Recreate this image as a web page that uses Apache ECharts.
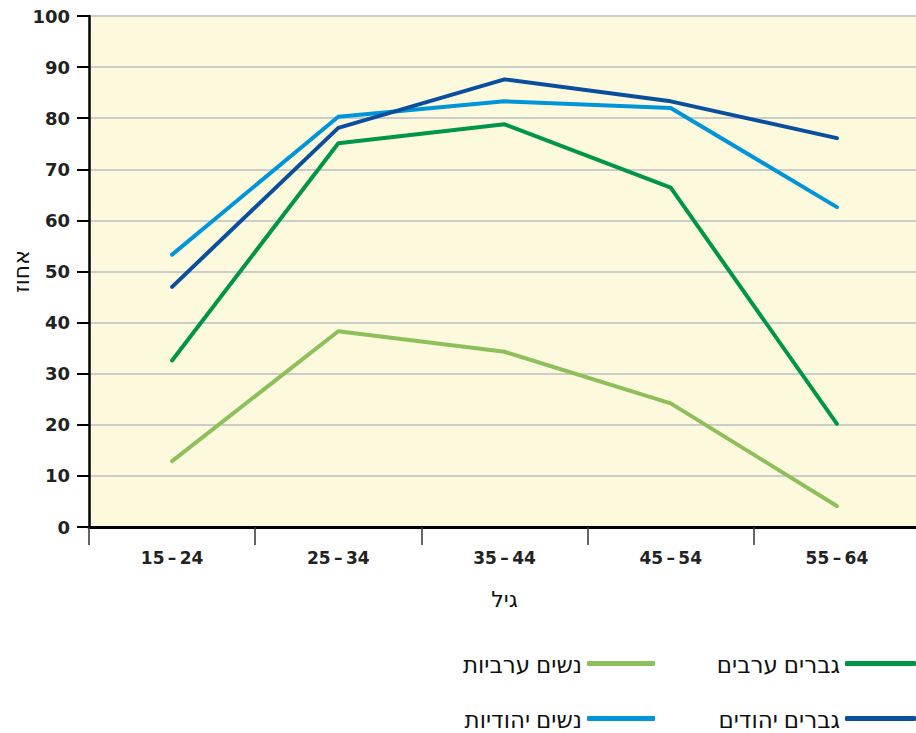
<!DOCTYPE html>
<html>
<head>
<meta charset="utf-8">
<script src="https://cdn.jsdelivr.net/npm/echarts@6/dist/echarts.min.js"></script>
<style>
  html, body { margin: 0; padding: 0; background: #fff; }
  #chart { width: 916px; height: 733px; }
</style>
</head>
<body>
<div id="chart"></div>
<script>
var ageGroups = ['15-24', '25-34', '35-44', '45-54', '55-64'];
var jewishMen = [47.0, 78.1, 87.6, 83.3, 76.1];
var jewishWomen = [53.3, 80.3, 83.3, 82.0, 62.6];
var arabMen = [32.6, 75.1, 78.8, 66.4, 20.2];
var arabWomen = [12.9, 38.3, 34.3, 24.2, 4.1];

// svg renderer keeps the hebrew text in the right order
var chart = echarts.init(document.getElementById('chart'), null, { renderer: 'svg' });
var numFont = "'DejaVu Sans', sans-serif";
var hebFont = "'Noto Sans', 'DejaVu Sans', sans-serif";

function series(name, values, color) {
  return {
    name: name,
    type: 'line',
    data: values,
    symbol: 'none',
    itemStyle: { color: color },
    lineStyle: { color: color, width: 4, cap: 'round', join: 'round' }
  };
}

// one legend per item so the 2x2 right-to-left layout is exact
function legend(name, right, top, width) {
  return {
    data: [name],
    right: right,
    top: top,
    align: 'right',
    icon: 'roundRect',
    itemWidth: width,
    itemHeight: 5,
    padding: 0,
    textStyle: { fontSize: 23, color: '#111', fontFamily: hebFont, lineHeight: 22 }
  };
}

var option = {
  animation: false,
  textStyle: { fontFamily: hebFont },
  grid: {
    left: 89, right: -4, top: 16, bottom: 206,
    outerBoundsMode: 'none',
    containLabel: false,
    show: true, backgroundColor: '#fdf9dd', borderWidth: 0
  },
  legend: [
    legend('גברים ערבים', 0, 652, 71),
    legend('גברים יהודים', 0, 707, 71),
    legend('נשים ערביות', 261, 652, 68),
    legend('נשים יהודיות', 261, 707, 68)
  ],
  xAxis: {
    type: 'category',
    data: ageGroups,
    boundaryGap: true,
    name: 'גיל',
    nameLocation: 'middle',
    nameGap: 60,
    nameTextStyle: { fontSize: 22, color: '#111', fontFamily: hebFont },
    axisLine: { lineStyle: { color: '#000', width: 3 } },
    axisTick: { show: true, length: 18, lineStyle: { color: '#333', width: 1.5 } },
    axisLabel: {
      fontSize: 17, fontWeight: 'bold', color: '#222', margin: 22, fontFamily: numFont,
      formatter: function (v) { return v.replace('-', '\u2009\u2013\u2009'); }
    },
    splitLine: { show: false }
  },
  yAxis: {
    type: 'value',
    min: 0, max: 100, interval: 10,
    name: 'אחוז',
    nameLocation: 'middle',
    nameGap: 58,
    nameMoveOverlap: false,
    nameRotate: 90,
    nameTextStyle: { fontSize: 22, color: '#111', fontFamily: hebFont },
    axisLine: { show: true, lineStyle: { color: '#000', width: 2.5 } },
    axisTick: { show: true, length: 12, lineStyle: { color: '#000', width: 2 } },
    axisLabel: { fontSize: 18, fontWeight: 'bold', color: '#222', margin: 19, fontFamily: numFont },
    splitLine: { show: true, lineStyle: { color: '#cccccc', width: 2 } }
  },
  series: [
    series('גברים ערבים', arabMen, '#00964a'),
    series('נשים ערביות', arabWomen, '#8dc05a'),
    series('נשים יהודיות', jewishWomen, '#0095d9'),
    series('גברים יהודים', jewishMen, '#0a4f9e')
  ]
};

chart.setOption(option);
</script>
</body>
</html>
